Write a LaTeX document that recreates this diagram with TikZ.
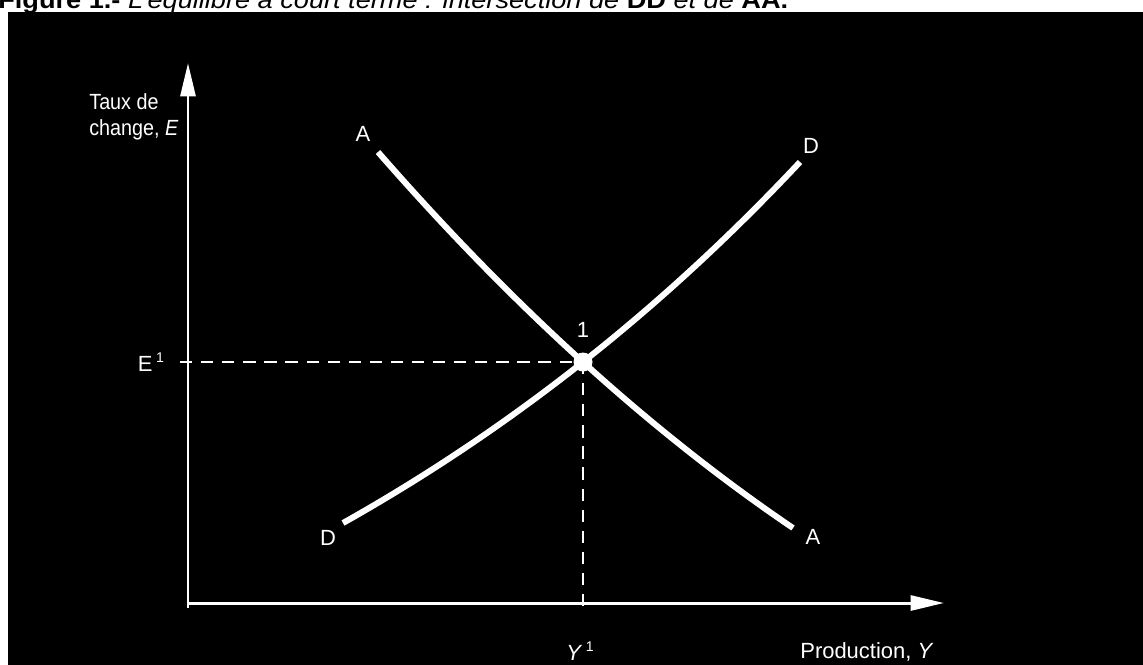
\documentclass[tikz,border=0pt]{standalone}
\usepackage{fontspec}
\setmainfont{Liberation Sans}
\usetikzlibrary{arrows.meta}
\begin{document}
\begin{tikzpicture}[x=0.02cm,y=-0.02cm,
  lbl/.style={text=white,font=\fontsize{12.5}{14.5}\selectfont,inner sep=0pt},
  axis/.style={white,line width=1.7pt,-{Triangle[length=19pt,width=8.5pt]}},
  curve/.style={white,line width=3.4pt},
  guide/.style={white,line width=1.1pt,dash pattern=on 7pt off 5pt}]
\useasboundingbox (0,0) rectangle (1143,664);
\begin{scope}
\clip (0,0) rectangle (1143,664);
% cut-off title
\node[anchor=base west,inner sep=0pt] (title) at (-2,8)
  {\resizebox{15.8cm}{0.36cm}{\bfseries Figure 1.-\ \mdseries\itshape L'équilibre à court terme : intersection de \upshape\bfseries DD \mdseries\itshape et de \upshape\bfseries AA.}};
\fill[black] (8,12) rectangle (1150,670);
\end{scope}
% key points
\coordinate (origin) at (188,603);
\coordinate (ytip) at (188,63);
\coordinate (xtip) at (944,603);
\coordinate (eq) at (583,362);
\coordinate (Atop) at (378,152);
\coordinate (Abot) at (793,528);
\coordinate (Dbot) at (343,523);
\coordinate (Dtop) at (800,162);
\coordinate (hstart) at (180,362);
\coordinate (vend) at (583,614);
% axes
\draw[axis] (188,608) -- (ytip);
\draw[axis] (origin) -- (xtip);
% guides
\draw[guide] (hstart) -- (eq);
\draw[guide] (eq) -- (vend);
% curves
\draw[curve] (Atop) .. controls (513,306.7) and (651.3,432) .. (Abot);
\draw[curve] (Dbot) .. controls (510.7,428.7) and (663,308.3) .. (Dtop);
\fill[white] (eq) circle (9.5);
% labels
\node[lbl,anchor=west,align=left] (ylab) at (89,117) {\scalebox{0.9}[1]{Taux de}\\\scalebox{0.9}[1]{change, \textit{E}}};
\node[lbl] (one) at (583,330) {1};
\node[lbl] (E1) at (151,362) {E\,\raisebox{0.4em}{\footnotesize 1}};
\node[lbl] (Y1) at (580,651) {\textit{Y}\,\raisebox{0.4em}{\footnotesize 1}};
\node[lbl,anchor=west] (xlab) at (800,652) {Production, \textit{Y}};
\node[lbl] (Alab1) at (363,134) {A};
\node[lbl] (Dlab1) at (811,146) {D};
\node[lbl] (Dlab2) at (328,538) {D};
\node[lbl] (Alab2) at (813,537) {A};
\end{tikzpicture}
\end{document}
